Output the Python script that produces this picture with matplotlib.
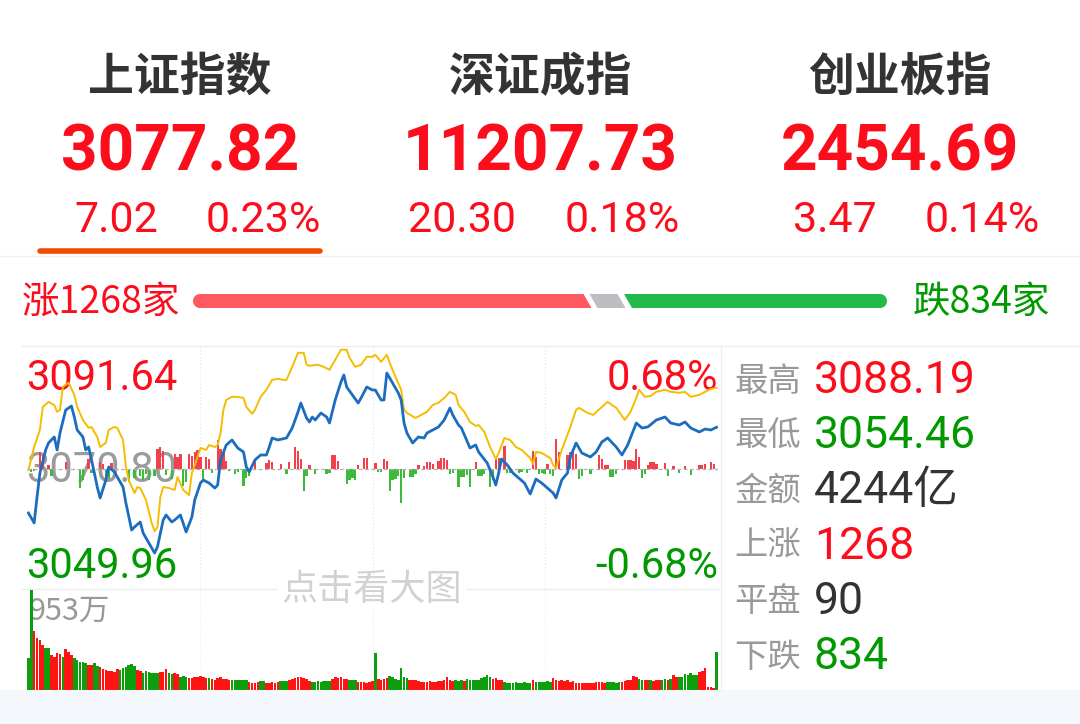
import matplotlib
matplotlib.use('Agg')
import matplotlib.pyplot as plt
from matplotlib.patches import Polygon, Circle, Rectangle
import numpy as np

plt.rcParams['font.family'] = ['Roboto', 'Noto Sans CJK SC', 'DejaVu Sans']

W, H = 1080, 724
RED = '#fc0d1b'
GREEN = '#009a00'
GRAY = '#999999'
DARK = '#333333'

# ---- header data
index_names = ['上证指数', '深证成指', '创业板指']
index_values = ['3077.82', '11207.73', '2454.69']
index_changes = ['7.02', '20.30', '3.47']
index_pcts = ['0.23%', '0.18%', '0.14%']

# ---- market breadth
up_count, flat_count, down_count = 1268, 90, 834

# ---- intraday chart
prev_close = 3070.80
top_label, bottom_label = 3091.64, 3049.96
pct_label = 0.68
day_high, day_low = 3088.19, 3054.46
turnover = '4244亿'
vol_max = 953

# minute index (0..240) and index price (blue)
blue_t = [0, 2, 3, 4, 6, 7, 9, 10, 11, 13, 15, 16, 17, 19, 20, 21, 23, 24, 25, 27,
          28, 30, 32, 33, 34, 36, 37, 39, 40, 42, 44, 45, 47, 48, 50, 51, 53, 55, 57, 58,
          60, 61, 63, 65, 66, 67, 69, 71, 73, 75, 76, 77, 79, 81, 83, 84, 85, 87, 90, 92,
          94, 95, 97, 98, 99, 100, 102, 104, 105, 107, 109, 110, 111, 113, 115, 116, 118, 120, 121, 123,
          124, 125, 127, 129, 130, 131, 132, 134, 136, 138, 139, 141, 143, 145, 147, 148, 150, 151, 154, 156,
          157, 160, 162, 163, 164, 165, 167, 169, 171, 173, 175, 177, 179, 181, 183, 184, 186, 188, 189, 191,
          193, 196, 198, 200, 202, 205, 207, 209, 212, 214, 216, 219, 222, 224, 227, 229, 231, 234, 236, 238,
          240]
blue_p = [3063.23, 3061.53, 3065.95, 3070.03, 3073.95, 3075.14, 3076.16, 3073.95, 3076.84, 3080.75,
          3081.43, 3079.56, 3077.35, 3076.16, 3073.95, 3074.46, 3070.03, 3067.65, 3065.78, 3068.84,
          3071.06, 3070.20, 3068.50, 3067.65, 3064.93, 3060.34, 3060.85, 3061.70, 3059.83, 3058.13,
          3056.43, 3057.45, 3062.04, 3062.89, 3061.70, 3062.04, 3062.89, 3060.00, 3062.55, 3065.44,
          3068.33, 3068.84, 3068.33, 3067.48, 3067.99, 3072.25, 3074.80, 3075.65, 3074.29, 3073.61,
          3071.06, 3070.20, 3072.25, 3073.10, 3073.10, 3074.46, 3075.99, 3075.65, 3075.99, 3077.69,
          3080.41, 3081.94, 3079.39, 3078.71, 3079.56, 3079.05, 3080.24, 3079.56, 3078.54, 3082.45,
          3085.51, 3086.70, 3084.66, 3083.30, 3081.94, 3082.79, 3084.66, 3084.15, 3084.15, 3082.45,
          3082.45, 3087.04, 3085.34, 3083.64, 3082.45, 3078.54, 3076.84, 3075.14, 3076.16, 3075.99,
          3076.84, 3077.35, 3077.86, 3079.05, 3081.09, 3079.90, 3078.20, 3077.69, 3074.29, 3074.80,
          3073.61, 3071.74, 3069.35, 3067.99, 3070.03, 3072.42, 3071.40, 3070.03, 3069.18, 3068.33,
          3066.46, 3069.01, 3068.33, 3067.48, 3066.63, 3065.78, 3068.84, 3070.03, 3072.76, 3075.14,
          3073.44, 3072.76, 3073.61, 3075.31, 3075.99, 3074.46, 3073.10, 3074.80, 3078.54, 3077.69,
          3077.86, 3079.05, 3079.56, 3078.54, 3078.20, 3078.71, 3077.69, 3077.01, 3077.52, 3077.35,
          3077.82]

# equal-weight line (yellow), change in %
yel_t = [0, 2, 4, 5, 7, 9, 10, 11, 12, 14, 16, 17, 19, 21, 22, 24, 25, 27, 28, 30,
         31, 33, 34, 35, 37, 38, 39, 41, 43, 44, 45, 46, 47, 49, 51, 52, 54, 56, 57, 59,
         60, 62, 63, 65, 66, 67, 68, 69, 71, 73, 75, 76, 78, 79, 81, 83, 85, 87, 89, 90,
         92, 94, 96, 97, 98, 101, 103, 105, 107, 109, 111, 112, 114, 116, 118, 120, 121, 123, 125, 126,
         128, 130, 131, 132, 135, 137, 139, 141, 143, 145, 147, 149, 150, 152, 154, 156, 157, 159, 161, 163,
         164, 166, 168, 170, 172, 175, 176, 177, 179, 182, 183, 184, 186, 189, 191, 192, 195, 197, 200, 202,
         205, 208, 210, 212, 213, 215, 217, 219, 222, 224, 227, 229, 231, 234, 236, 238, 240]
yel_pct = [-0.008, 0.119, 0.214, 0.341, 0.369, 0.352, 0.314, 0.325, 0.452, 0.475,
           0.408, 0.341, 0.269, 0.225, 0.230, 0.175, 0.119, 0.142, 0.214, 0.230,
           0.225, 0.158, 0.008, -0.064, -0.136, -0.103, -0.108, -0.175, -0.303, -0.347,
           -0.325, -0.158, -0.103, -0.108, -0.119, -0.047, -0.119, -0.147, -0.025, 0.064,
           0.114, 0.103, 0.130, 0.119, 0.130, 0.197, 0.325, 0.380, 0.397, 0.397,
           0.391, 0.341, 0.303, 0.325, 0.397, 0.436, 0.491, 0.497, 0.491, 0.491,
           0.563, 0.641, 0.641, 0.575, 0.569, 0.575, 0.563, 0.547, 0.602, 0.658,
           0.658, 0.613, 0.563, 0.575, 0.619, 0.619, 0.630, 0.591, 0.630, 0.586,
           0.508, 0.436, 0.325, 0.308, 0.280, 0.297, 0.314, 0.352, 0.364, 0.391,
           0.425, 0.408, 0.352, 0.314, 0.258, 0.236, 0.241, 0.203, 0.119, 0.053,
           0.086, 0.169, 0.158, 0.119, 0.103, 0.058, 0.025, 0.092, 0.086, 0.058,
           0.019, 0.003, 0.103, 0.230, 0.325, 0.336, 0.308, 0.297, 0.341, 0.369,
           0.336, 0.269, 0.314, 0.391, 0.436, 0.397, 0.402, 0.425, 0.436, 0.425,
           0.419, 0.425, 0.397, 0.408, 0.425, 0.441, 0.447]

# buy/sell strength bars around the zero line
lead_t = [1, 2, 4, 5, 7, 8, 13, 18, 19, 21, 22, 25, 26, 27, 28, 29, 35, 37, 39, 40,
          41, 42, 44, 45, 46, 47, 48, 50, 51, 52, 53, 54, 55, 56, 57, 58, 59, 60, 61, 62,
          63, 64, 66, 67, 68, 69, 70, 72, 73, 75, 76, 77, 79, 83, 84, 85, 88, 90, 91, 93,
          94, 95, 96, 97, 98, 100, 104, 105, 106, 107, 108, 111, 112, 113, 114, 115, 117, 118, 121, 122,
          123, 124, 125, 126, 127, 128, 129, 130, 131, 133, 134, 135, 136, 138, 139, 140, 141, 143, 144, 145,
          146, 147, 148, 150, 151, 152, 153, 154, 156, 157, 158, 159, 161, 162, 163, 164, 166, 167, 168, 171,
          172, 174, 176, 177, 178, 179, 180, 181, 182, 183, 184, 185, 188, 189, 190, 191, 192, 193, 196, 199,
          200, 201, 202, 203, 204, 205, 208, 209, 210, 211, 212, 213, 214, 215, 216, 217, 218, 219, 222, 223,
          225, 227, 229, 231, 234, 235, 236, 238, 239]
lead_v = [-4, -3, 17, 14, 4, -8, 7, -20, -12, 10, -5, 7, 5, -8, -11, 6, -14, -10, -8, -12,
          -6, -12, -8, 20, 22, 18, -7, -11, 15, 12, 15, -18, -14, 15, 13, 17, 19, 12, -11, 12,
          10, -5, 29, 20, 17, 8, -3, -6, -4, -18, -10, -8, 10, 6, 9, 7, 5, -6, 7, 22,
          18, 10, -23, -8, 4, -6, -6, -5, 14, 14, 8, -16, -12, -10, -12, 4, 11, 11, 6, -4,
          -4, 10, 8, -23, -12, -11, -8, -35, -10, -9, -9, -6, 4, 3, 7, 7, 5, 8, 11, 11,
          9, -6, -5, -19, -9, -9, -7, -19, 7, -8, -8, -6, -19, -12, 11, 11, 23, -5, -5, -5,
          -4, -5, 18, 12, -6, -5, -6, 5, -6, -8, 30, 17, 14, 17, 19, 15, -11, -8, -6, 14,
          10, 4, 4, -9, -9, -6, 9, 9, 9, 8, 20, 12, -10, -6, 4, 7, 7, 5, 6, -8,
          3, -5, 3, -7, 4, 4, 5, 7, 5]
lead_unit = 0.17

# per-minute volume (万手) and direction (1 = up / red, 0 = down / green)
volume = [302, 953, 565, 500, 476, 430, 397, 397, 330, 318,
          350, 340, 318, 388, 360, 334, 302, 290, 270, 265,
          260, 238, 240, 254, 229, 216, 200, 191, 184, 180,
          175, 197, 191, 205, 216, 238, 245, 230, 191, 180,
          159, 184, 170, 159, 160, 159, 175, 175, 197, 165,
          152, 159, 150, 121, 133, 125, 111, 115, 120, 127,
          130, 125, 118, 111, 105, 95, 110, 127, 108, 102,
          100, 95, 95, 100, 95, 92, 95, 80, 70, 70,
          72, 86, 86, 70, 70, 75, 70, 72, 89, 85,
          89, 95, 105, 115, 121, 121, 110, 105, 90, 79,
          75, 86, 80, 86, 82, 86, 105, 121, 110, 121,
          102, 102, 95, 92, 95, 79, 75, 79, 70, 79,
          86, 350, 105, 100, 105, 110, 137, 120, 102, 98,
          206, 125, 118, 95, 92, 95, 85, 79, 79, 79,
          82, 79, 79, 85, 90, 100, 121, 95, 86, 95,
          90, 95, 86, 102, 95, 98, 95, 100, 110, 125,
          143, 120, 105, 110, 95, 100, 75, 70, 70, 70,
          72, 70, 70, 72, 70, 70, 95, 80, 75, 73,
          80, 85, 73, 111, 95, 89, 100, 89, 95, 80,
          89, 70, 64, 64, 66, 64, 64, 66, 73, 73,
          73, 70, 73, 73, 75, 70, 73, 80, 85, 95,
          100, 133, 120, 102, 95, 98, 95, 95, 90, 95,
          100, 98, 105, 100, 105, 143, 125, 127, 125, 152,
          140, 165, 145, 143, 175, 185, 206, 25, 25, 20,
          365]
vol_up = [0, 0, 1, 1, 1, 1, 0, 0, 1, 1,
          1, 1, 0, 1, 1, 1, 0, 0, 0, 0,
          0, 1, 1, 0, 0, 1, 1, 1, 1, 1,
          1, 1, 0, 0, 0, 0, 0, 0, 1, 1,
          0, 0, 0, 0, 0, 0, 1, 1, 1, 0,
          0, 1, 1, 0, 0, 0, 1, 1, 1, 1,
          1, 1, 1, 0, 1, 1, 1, 1, 1, 1,
          1, 0, 0, 0, 0, 0, 0, 1, 1, 1,
          1, 0, 0, 1, 1, 1, 1, 1, 0, 0,
          0, 1, 1, 1, 1, 1, 1, 1, 1, 0,
          0, 0, 0, 0, 0, 0, 1, 1, 1, 1,
          1, 1, 0, 0, 0, 1, 1, 1, 1, 1,
          1, 0, 1, 1, 1, 1, 0, 0, 0, 0,
          0, 0, 0, 1, 1, 1, 1, 1, 1, 1,
          1, 1, 1, 1, 1, 1, 1, 1, 1, 0,
          0, 0, 1, 0, 0, 0, 0, 0, 0, 0,
          0, 0, 1, 1, 1, 1, 0, 0, 0, 0,
          0, 0, 0, 0, 0, 0, 1, 0, 0, 0,
          0, 0, 0, 1, 1, 1, 1, 1, 1, 1,
          1, 1, 1, 1, 1, 1, 1, 1, 1, 1,
          1, 1, 0, 0, 0, 0, 0, 1, 1, 1,
          1, 1, 1, 0, 0, 1, 1, 0, 1, 1,
          1, 0, 0, 1, 0, 1, 1, 0, 0, 0,
          0, 0, 0, 0, 1, 1, 1, 1, 1, 1,
          0]

# right side stats
stat_labels = ['最高', '最低', '金额', '上涨', '平盘', '下跌']
stat_values = [f'{day_high:.2f}', f'{day_low:.2f}', turnover,
               str(up_count), str(flat_count), str(down_count)]
stat_colors = [RED, GREEN, DARK, RED, DARK, GREEN]


def rect(x0, y0, x1, y1):
    return [x0 / W, 1 - y1 / H, (x1 - x0) / W, (y1 - y0) / H]


fig = plt.figure(figsize=(W / 100, H / 100), dpi=100)

# background layer in pixel coordinates
bg = fig.add_axes([0, 0, 1, 1])
bg.set_xlim(0, W)
bg.set_ylim(H, 0)
bg.axis('off')

bg.add_patch(Rectangle((0, 690), W, H - 690, color='#f4f8fc', lw=0))

# header
col_x = [180, 540, 900]
chg_x = [(116, 263), (462, 622), (835, 982)]
for i in range(3):
    bg.text(col_x[i], 78, index_names[i], ha='center', va='center', fontsize=33,
            fontweight='bold', color=DARK, family=['Noto Sans CJK SC'])
    bg.text(col_x[i], 153, index_values[i], ha='center', va='center', fontsize=46,
            fontweight='bold', color=RED)
    bg.text(chg_x[i][0], 220, index_changes[i], ha='center', va='center', fontsize=31, color=RED)
    bg.text(chg_x[i][1], 220, index_pcts[i], ha='center', va='center', fontsize=31, color=RED)
bg.plot([40, 320], [251, 251], color='#f24a00', lw=4, solid_capstyle='round')
bg.plot([0, W], [256, 256], color='#f0f0f0', lw=1)

# breadth bar
bg.text(22, 302, f'涨{up_count}家', ha='left', va='center', fontsize=27, color=RED,
        family=['Noto Sans CJK SC'])
bg.text(1050, 302, f'跌{down_count}家', ha='right', va='center', fontsize=27, color=GREEN,
        family=['Noto Sans CJK SC'])
bar_x0, bar_x1, bar_h, bar_y, gap, slant = 193, 887, 14, 301, 6, 8
total = up_count + flat_count + down_count
usable = bar_x1 - bar_x0 - 2 * gap
red_w = usable * up_count / total
gray_w = usable * flat_count / total
r_end = bar_x0 + red_w
g_start = r_end + gap
g_end = g_start + gray_w
d_start = g_end + gap
yt, yb = bar_y - bar_h / 2, bar_y + bar_h / 2
r = bar_h / 2
bg.add_patch(Circle((bar_x0 + r, bar_y), r, color='#ff5a60', lw=0))
bg.add_patch(Polygon([(bar_x0 + r, yt), (r_end - slant / 2, yt), (r_end + slant / 2, yb),
                      (bar_x0 + r, yb)], closed=True, color='#ff5a60', lw=0))
bg.add_patch(Polygon([(g_start - slant / 2, yt), (g_end - slant / 2, yt), (g_end + slant / 2, yb),
                      (g_start + slant / 2, yb)], closed=True, color='#bdbdc2', lw=0))
bg.add_patch(Circle((bar_x1 - r, bar_y), r, color='#22bb4a', lw=0))
bg.add_patch(Polygon([(d_start - slant / 2, yt), (bar_x1 - r, yt), (bar_x1 - r, yb),
                      (d_start + slant / 2, yb)], closed=True, color='#22bb4a', lw=0))

# frame lines
bg.plot([22, W], [346, 346], color='#eeeeee', lw=1)
bg.plot([721, 721], [346, 690], color='#eeeeee', lw=1)
bg.plot([22, 718], [589, 589], color='#eeeeee', lw=1)

# chart labels (under the lines)
bg.text(26, 378, f'{top_label:.2f}', ha='left', va='center', fontsize=30, color=RED)
bg.text(26, 470, f'{prev_close:.2f}', ha='left', va='center', fontsize=30, color='#9b9b9b')
bg.text(26, 566, f'{bottom_label:.2f}', ha='left', va='center', fontsize=30, color=GREEN)
bg.text(718, 378, f'{pct_label:.2f}%', ha='right', va='center', fontsize=30, color=RED)
bg.text(718, 566, f'-{pct_label:.2f}%', ha='right', va='center', fontsize=30, color=GREEN)
bg.text(29, 611, f'{vol_max}万', ha='left', va='center', fontsize=22, color=GRAY,
        family=['Noto Sans CJK SC'])
bg.text(372, 590, '点击看大图', ha='center', va='center', fontsize=26, color='#d2d2d2',
        family=['Noto Sans CJK SC'],
        bbox=dict(boxstyle='square,pad=0.1', fc='white', ec='none'))

# stats panel
for i, (lab, val, c) in enumerate(zip(stat_labels, stat_values, stat_colors)):
    y = 381 + 55.2 * i
    bg.text(734, y, lab, ha='left', va='center', fontsize=24, color=GRAY,
            family=['Noto Sans CJK SC'])
    bg.text(814, y, val, ha='left', va='center', fontsize=32, color=c)

# price chart
ax = fig.add_axes(rect(27, 346, 718, 591))
ax.patch.set_alpha(0)
ax.set_xlim(-0.5, 240.5)
ax.set_ylim(bottom_label, top_label)
ax.axis('off')
for t in (60, 120, 180):
    ax.axvline(t, color='#e4e4e4', lw=0.8, ls=(0, (1, 2)), zorder=0)
lead_colors = ['#f2404c' if v > 0 else '#3cba3c' for v in lead_v]
ax.bar(lead_t, np.array(lead_v) * lead_unit, bottom=prev_close, width=0.8,
       color=lead_colors, zorder=1)
ax.axhline(prev_close, color='#b0b0b0', lw=0.9, ls=(0, (3, 2)), zorder=1.5)
yel_price = prev_close * (1 + np.array(yel_pct) / 100)
ax.plot(yel_t, yel_price, color='#f5bd00', lw=1.4, zorder=2)
ax.plot(blue_t, blue_p, color='#1c6dc0', lw=2.0, zorder=3)

# volume chart
vax = fig.add_axes(rect(27, 590, 718, 690))
vax.patch.set_alpha(0)
vax.set_xlim(-0.5, 240.5)
vax.set_ylim(0, vol_max)
vax.axis('off')
for t in (60, 120, 180):
    vax.axvline(t, color='#ececec', lw=0.8, ls=(0, (1, 2)), zorder=0)
vol_colors = ['#ff1414' if u else '#0c9e0c' for u in vol_up]
vax.bar(np.arange(len(volume)), volume, width=0.9, color=vol_colors, zorder=1)

fig.savefig('out.png', dpi=100)
